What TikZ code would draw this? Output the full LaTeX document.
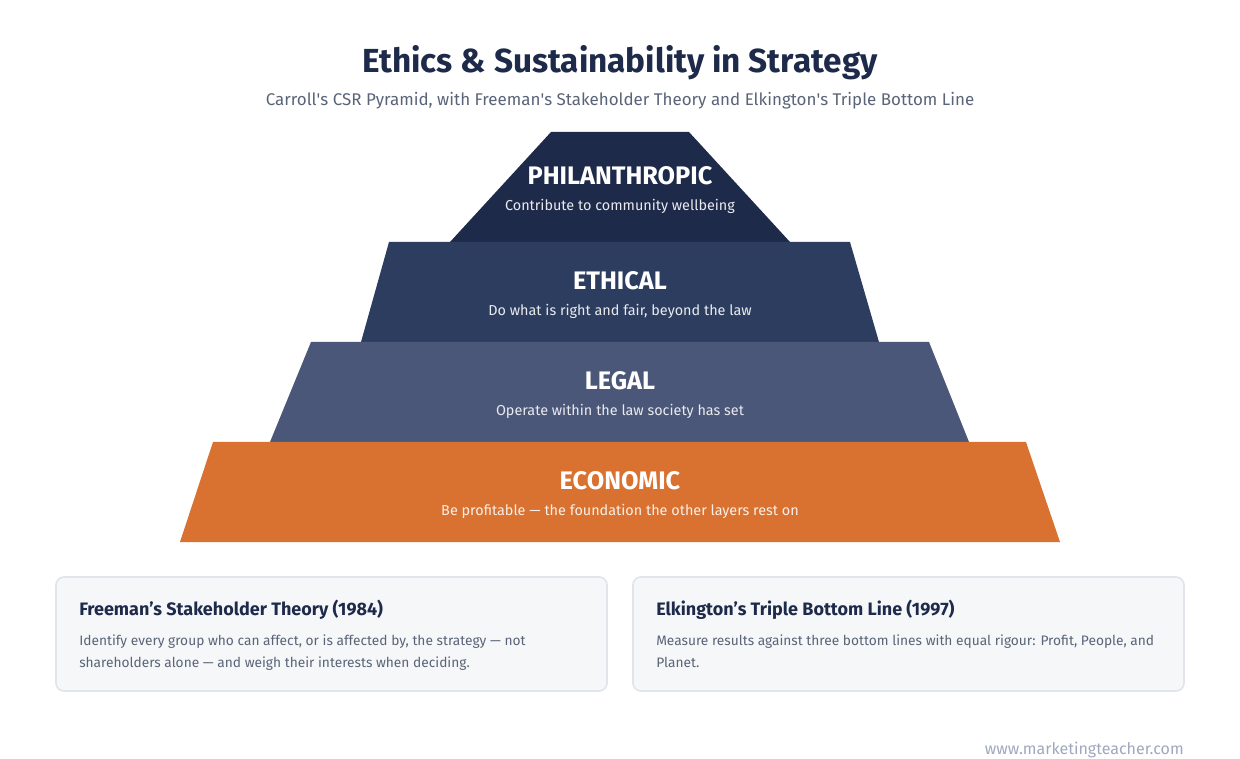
\documentclass[tikz,border=0pt]{standalone}
\usepackage{fontspec}
\setmainfont{Fira Sans}
\usetikzlibrary{positioning}
\definecolor{navyA}{HTML}{1E2A4A}
\definecolor{navyB}{HTML}{2C3D60}
\definecolor{slateC}{HTML}{4A5779}
\definecolor{orangeD}{HTML}{D97230}
\definecolor{greytext}{HTML}{5A6478}
\definecolor{cardfill}{HTML}{F6F7F9}
\definecolor{cardline}{HTML}{E1E4EA}
\definecolor{footgrey}{HTML}{A0A8C0}
\newcommand{\sq}{\textquotesingle}
\tikzset{
    layername/.style={text=white,font=\fontsize{19}{22}\selectfont\bfseries},
    layerdesc/.style={text=white!90!navyA,font=\fontsize{10.8}{13}\selectfont},
    card/.style={draw=cardline,line width=1.2pt,fill=cardfill,rounded corners=6pt},
    cardtitle/.style={anchor=base west,inner sep=0pt,text=navyA,font=\fontsize{13.5}{16}\selectfont\bfseries},
    cardbody/.style={anchor=base west,inner sep=0pt,text=greytext,align=left,font=\fontsize{10.3}{16.5}\selectfont}
}
\begin{document}
\begin{tikzpicture}[x=0.75pt,y=-0.75pt]
    \useasboundingbox[fill=white] (0,0) rectangle (1240,759);
    % heading
    \node[text=navyA,font=\fontsize{25}{29}\selectfont\bfseries] (title) at (620,63) {Ethics \& Sustainability in Strategy};
    \node[text=greytext,font=\fontsize{12.7}{15}\selectfont] (subtitle) at (620,101) {Carroll\sq s CSR Pyramid, with Freeman\sq s Stakeholder Theory and Elkington\sq s Triple Bottom Line};
    % the four layers of the pyramid
    \fill[navyA] (551,132) -- (689,132) -- (790,242) -- (450,242) -- cycle;
    \fill[navyB] (389,242) -- (850,242) -- (879,342) -- (361,342) -- cycle;
    \fill[slateC] (311,342) -- (929,342) -- (969,442) -- (270,442) -- cycle;
    \fill[orangeD] (213,442) -- (1026,442) -- (1060,542) -- (180,542) -- cycle;
    % layer labels
    \node[layername] (phil) at (620,176) {PHILANTHROPIC};
    \node[layerdesc] (philtxt) at (620,206) {Contribute to community wellbeing};
    \node[layername] (eth) at (620,281) {ETHICAL};
    \node[layerdesc] (ethtxt) at (620,311) {Do what is right and fair, beyond the law};
    \node[layername] (leg) at (620,381) {LEGAL};
    \node[layerdesc] (legtxt) at (620,411) {Operate within the law society has set};
    \node[layername] (eco) at (620,481) {ECONOMIC};
    \node[layerdesc,text=white!88!orangeD] (ecotxt) at (620,511) {Be profitable — the foundation the other layers rest on};
    % the two cards
    \draw[card] (56,577) rectangle (607,691);
    \draw[card] (633,577) rectangle (1184,691);
    \node[cardtitle] (freeman) at (79,615) {Freeman’s Stakeholder Theory (1984)};
    \node[cardbody] (freemantxt) at (79,667) {Identify every group who can affect, or is affected by, the strategy — not\\shareholders alone — and weigh their interests when deciding.};
    \node[cardtitle] (elk) at (656,615) {Elkington’s Triple Bottom Line (1997)};
    \node[cardbody] (elktxt) at (656,667) {Measure results against three bottom lines with equal rigour: Profit, People, and\\Planet.};
    % footer
    \node[anchor=base east,inner sep=0pt,text=footgrey,font=\fontsize{12}{14}\selectfont] (web) at (1184,754) {www.marketingteacher.com};
\end{tikzpicture}
\end{document}
